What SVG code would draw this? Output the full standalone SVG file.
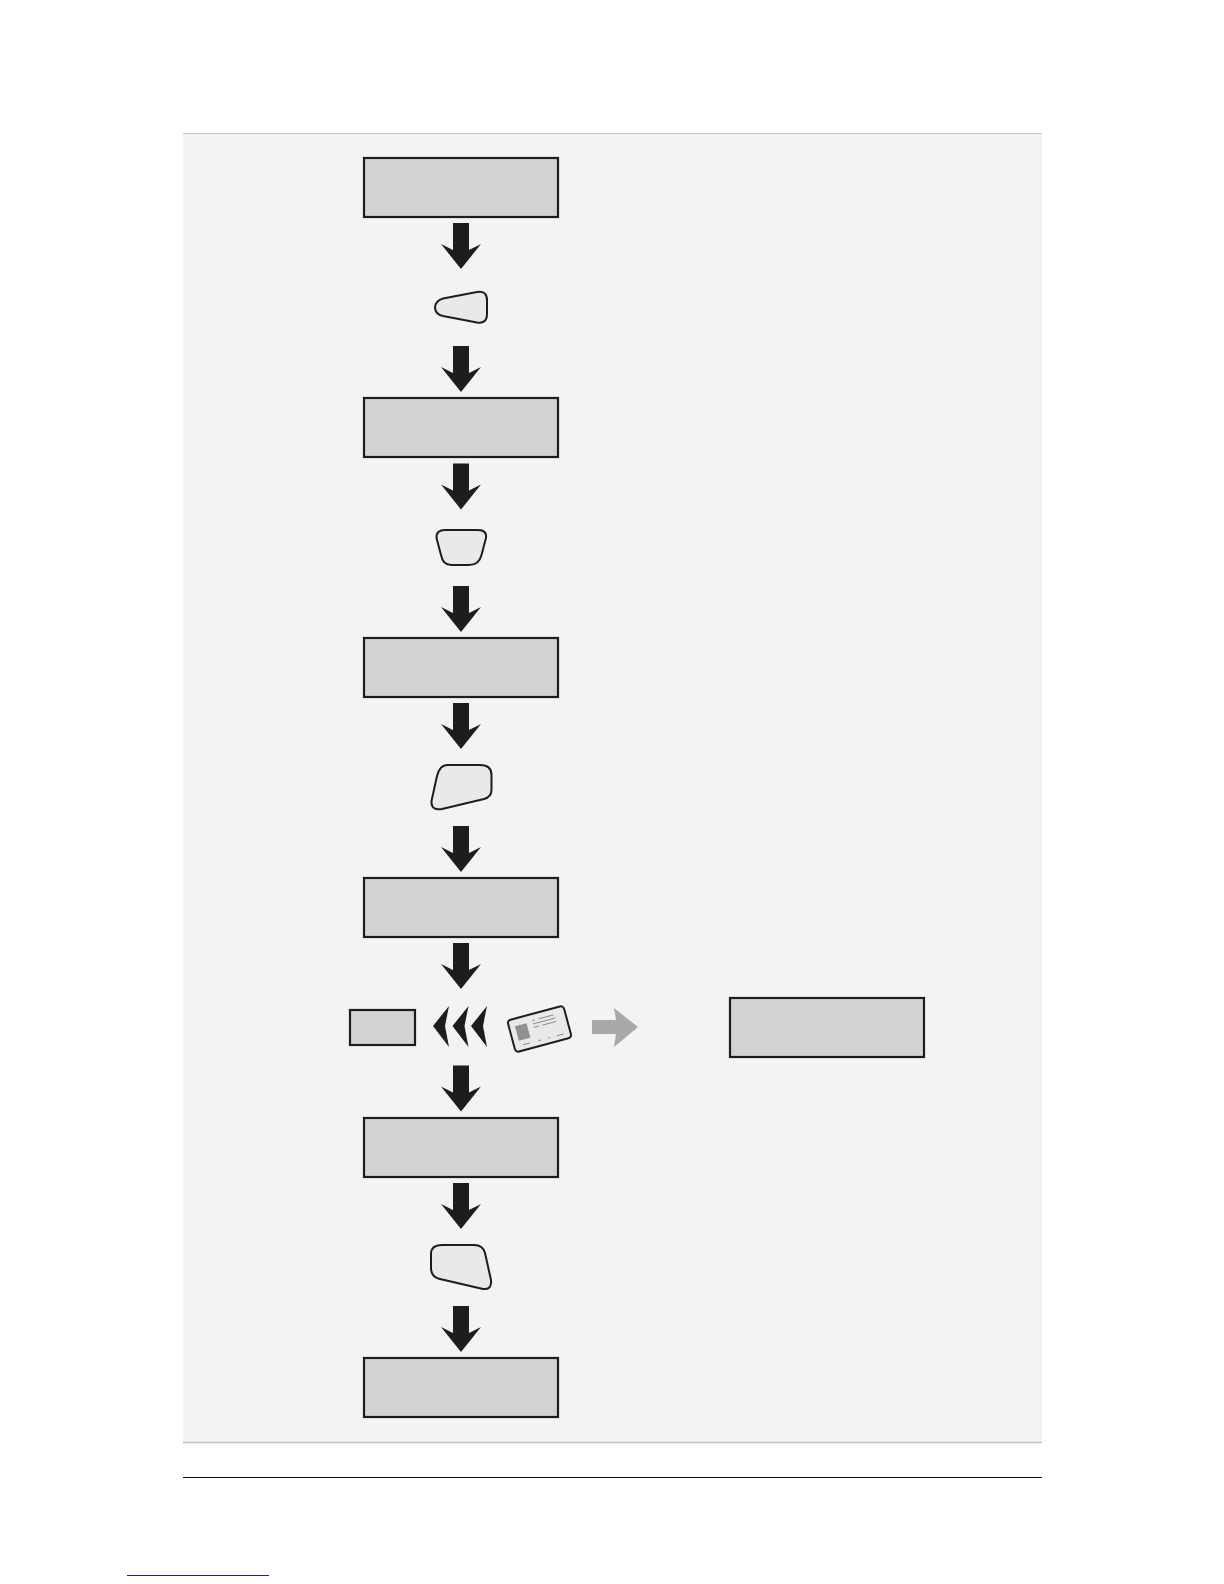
<svg xmlns="http://www.w3.org/2000/svg" width="1224" height="1584" viewBox="0 0 1224 1584">
<style>
.box{fill:#d3d3d3;stroke:#1f1c1d;stroke-width:2.200}
.key{fill:#e9e9e9;stroke:#1f1c1d;stroke-width:2;stroke-linejoin:round}
.arr{fill:#1f1c1d}
.ln{stroke:#6a6a6a;stroke-width:.7;fill:none}
</style>
<defs>
<path id="down" d="M453 223H469V250L481 244L461 269L441 244L453 250Z"/>
<path id="chev" d="M433 1026L449 1006L445 1026L449 1047Z"/>
</defs>
<rect x="0" y="0" width="1224" height="1584" fill="#fff"/>
<rect x="183" y="133" width="859" height="1309" fill="#f3f3f3"/>
<path d="M183 133.500H1042" stroke="#c4c4c4" stroke-width="1" fill="none"/>
<path d="M183 1442.500H1042" stroke="#c4c4c4" stroke-width="1.300" fill="none"/>
<path d="M183 1477.500H1042" stroke="#111" stroke-width="1.200" fill="none"/>
<path d="M127 1575.500H269" stroke="#1c1ca8" stroke-width="1.200" fill="none"/>
<g id="connectors" class="arr">
<use href="#down"/>
<use href="#down" y="123"/>
<use href="#down" y="240.500"/>
<use href="#down" y="363"/>
<use href="#down" y="480"/>
<use href="#down" y="603"/>
<use href="#down" y="720"/>
<use href="#down" y="842.500"/>
<use href="#down" y="960"/>
<use href="#down" y="1083"/>
<g id="chevrons"><use href="#chev"/><use href="#chev" x="19.500"/><use href="#chev" x="38"/></g>
<path id="grey-arrow" d="M592 1020H616L614 1008L638 1027L614 1047L616 1034H592Z" fill="#a9a9a9"/>
</g>
<g id="box1"><rect class="box" x="364" y="158" width="194" height="59"/></g>
<g id="box2"><rect class="box" x="364" y="398" width="194" height="59"/></g>
<g id="box3"><rect class="box" x="364" y="638" width="194" height="59"/></g>
<g id="box4"><rect class="box" x="364" y="878" width="194" height="59"/></g>
<g id="box5"><rect class="box" x="364" y="1118" width="194" height="59"/></g>
<g id="box6"><rect class="box" x="364" y="1358" width="194" height="59"/></g>
<g id="box7"><rect class="box" x="730" y="998" width="194" height="59"/></g>
<g id="small-box"><rect class="box" x="350" y="1010" width="65" height="35"/></g>
<g id="key1"><path class="key" d="M443 298.500L477 292Q487 290.500 487 300V314Q487 324 477 322.500L443 316Q435 314 435 307.500Q435 301 443 298.500Z"/></g>
<g id="key2"><path class="key" d="M445 530H478Q487 530 486 538L481.500 555Q479 565 469 565H451Q443 565 441 555L436.500 538Q436 530 445 530Z"/></g>
<g id="key3"><path class="key" d="M447 765H480Q491.500 765 491.500 775V790Q491.500 797 484 799L442 809Q431 811 431.500 801L437 776Q440 765 447 765Z"/></g>
<g id="key4"><path class="key" d="M442 1245H474Q483 1245 485 1253L491 1280Q492 1290 483 1289L440 1279Q431 1277 431 1268V1254Q431 1245 442 1245Z"/></g>
<g id="card">
<g transform="translate(539.500 1029) rotate(-15)">
<rect class="key" x="-29" y="-16.500" width="58" height="33" rx="3.500" fill="#eee"/>
<rect x="-23" y="-9" width="12" height="15" fill="#909090"/>
<path class="ln" d="M-5 -10H-2M2 -10H17M-5 -6.500H18M-5 -3H0M4 -3H18M-20 11H-13M-4 11H-1M6 11H8M15 11H22"/>
</g>
</g>
</svg>
